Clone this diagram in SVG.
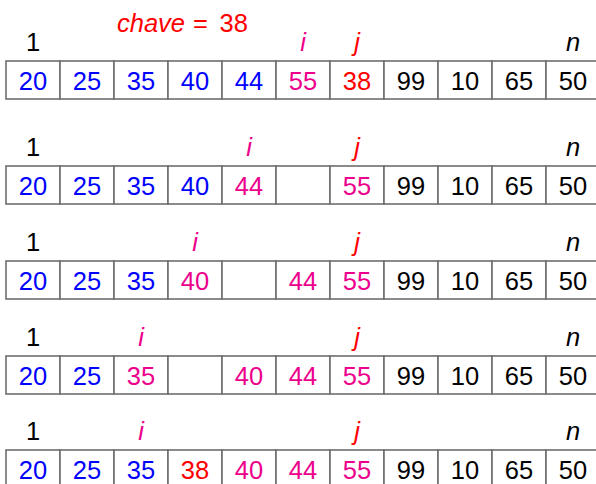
<svg xmlns="http://www.w3.org/2000/svg" width="596" height="484" viewBox="0 0 596 484">
<style>
.cell{fill:#fff;stroke:#6e6e6e;stroke-width:1.6}
text{font-family:"Liberation Sans",Arial,sans-serif;font-size:25.5px;text-anchor:middle}
.it{font-style:italic}
.k{fill:#000}.b{fill:#0000ff}.m{fill:#ec008c}.r{fill:#ff0000}
</style>
<defs>
<g id="cells">
<rect class="cell" x="6" y="0" width="54" height="38"/>
<rect class="cell" x="60" y="0" width="54" height="38"/>
<rect class="cell" x="114" y="0" width="54" height="38"/>
<rect class="cell" x="168" y="0" width="54" height="38"/>
<rect class="cell" x="222" y="0" width="54" height="38"/>
<rect class="cell" x="276" y="0" width="54" height="38"/>
<rect class="cell" x="330" y="0" width="54" height="38"/>
<rect class="cell" x="384" y="0" width="54" height="38"/>
<rect class="cell" x="438" y="0" width="54" height="38"/>
<rect class="cell" x="492" y="0" width="54" height="38"/>
<rect class="cell" x="546" y="0" width="54" height="38"/>
</g>
</defs>
<text x="117" y="31.7" class="r" style="text-anchor:start"><tspan class="it">chave</tspan><tspan x="193">=</tspan><tspan x="219.5">38</tspan></text>
<g id="row1" transform="translate(0,61)">
<use href="#cells"/>
<text x="33" y="-10.5" class="k">1</text><text x="303" y="-10.5" class="m it">i</text><text x="357" y="-10.5" class="r it">j</text><text x="573" y="-10.5" class="k it">n</text>
<text x="33" y="29.3" class="b">20</text><text x="87" y="29.3" class="b">25</text><text x="141" y="29.3" class="b">35</text><text x="195" y="29.3" class="b">40</text><text x="249" y="29.3" class="b">44</text><text x="303" y="29.3" class="m">55</text><text x="357" y="29.3" class="r">38</text><text x="411" y="29.3" class="k">99</text><text x="465" y="29.3" class="k">10</text><text x="519" y="29.3" class="k">65</text><text x="573" y="29.3" class="k">50</text>
</g>
<g id="row2" transform="translate(0,166)">
<use href="#cells"/>
<text x="33" y="-10.5" class="k">1</text><text x="249" y="-10.5" class="m it">i</text><text x="357" y="-10.5" class="r it">j</text><text x="573" y="-10.5" class="k it">n</text>
<text x="33" y="29.3" class="b">20</text><text x="87" y="29.3" class="b">25</text><text x="141" y="29.3" class="b">35</text><text x="195" y="29.3" class="b">40</text><text x="249" y="29.3" class="m">44</text><text x="357" y="29.3" class="m">55</text><text x="411" y="29.3" class="k">99</text><text x="465" y="29.3" class="k">10</text><text x="519" y="29.3" class="k">65</text><text x="573" y="29.3" class="k">50</text>
</g>
<g id="row3" transform="translate(0,261)">
<use href="#cells"/>
<text x="33" y="-10.5" class="k">1</text><text x="195" y="-10.5" class="m it">i</text><text x="357" y="-10.5" class="r it">j</text><text x="573" y="-10.5" class="k it">n</text>
<text x="33" y="29.3" class="b">20</text><text x="87" y="29.3" class="b">25</text><text x="141" y="29.3" class="b">35</text><text x="195" y="29.3" class="m">40</text><text x="303" y="29.3" class="m">44</text><text x="357" y="29.3" class="m">55</text><text x="411" y="29.3" class="k">99</text><text x="465" y="29.3" class="k">10</text><text x="519" y="29.3" class="k">65</text><text x="573" y="29.3" class="k">50</text>
</g>
<g id="row4" transform="translate(0,356)">
<use href="#cells"/>
<text x="33" y="-10.5" class="k">1</text><text x="141" y="-10.5" class="m it">i</text><text x="357" y="-10.5" class="r it">j</text><text x="573" y="-10.5" class="k it">n</text>
<text x="33" y="29.3" class="b">20</text><text x="87" y="29.3" class="b">25</text><text x="141" y="29.3" class="m">35</text><text x="249" y="29.3" class="m">40</text><text x="303" y="29.3" class="m">44</text><text x="357" y="29.3" class="m">55</text><text x="411" y="29.3" class="k">99</text><text x="465" y="29.3" class="k">10</text><text x="519" y="29.3" class="k">65</text><text x="573" y="29.3" class="k">50</text>
</g>
<g id="row5" transform="translate(0,450)">
<use href="#cells"/>
<text x="33" y="-10.5" class="k">1</text><text x="141" y="-10.5" class="m it">i</text><text x="357" y="-10.5" class="r it">j</text><text x="573" y="-10.5" class="k it">n</text>
<text x="33" y="29.3" class="b">20</text><text x="87" y="29.3" class="b">25</text><text x="141" y="29.3" class="b">35</text><text x="195" y="29.3" class="r">38</text><text x="249" y="29.3" class="m">40</text><text x="303" y="29.3" class="m">44</text><text x="357" y="29.3" class="m">55</text><text x="411" y="29.3" class="k">99</text><text x="465" y="29.3" class="k">10</text><text x="519" y="29.3" class="k">65</text><text x="573" y="29.3" class="k">50</text>
</g>
</svg>
